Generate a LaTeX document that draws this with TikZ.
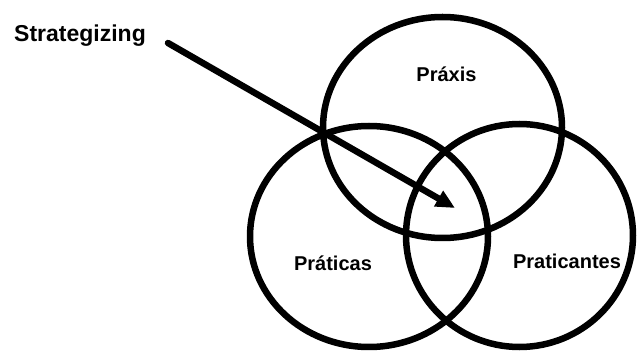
\documentclass[tikz,border=0pt]{standalone}
\usepackage{fontspec}
\setmainfont{Liberation Sans}
\usetikzlibrary{arrows.meta, shapes.geometric}

\begin{document}
\begin{tikzpicture}[x=1pt, y=1pt, line width=6.5pt,
    every node/.style={font=\bfseries\fontsize{20}{24}\selectfont},
    venn/.style={draw, ellipse, inner sep=0pt},
    lbl/.style={anchor=base, inner sep=0pt}]
    \useasboundingbox (0,0) rectangle (638,351);
    \node[venn, minimum width=239pt, minimum height=221pt] (praxis) at (442.5,223.5) {};
    \node[venn, minimum width=238pt, minimum height=221pt] (praticas) at (369,114.5) {};
    \node[venn, minimum width=227pt, minimum height=223pt] (praticantes) at (519.5,115.5) {};
    \node[lbl] (tpraxis) at (446.5,269.3) {Práxis};
    \node[lbl] (tpraticas) at (333,80) {Práticas};
    \node[lbl] (tpraticantes) at (567,82.3) {Praticantes};
    \node[lbl, font=\bfseries\fontsize{23}{27}\selectfont] (strat) at (80,309.3) {Strategizing};
    \coordinate (from) at (168,308);
    \coordinate (core) at (455,143);
    \draw[-{Triangle[length=19pt, width=17pt]}, line cap=round] (from) -- (core);
\end{tikzpicture}
\end{document}
